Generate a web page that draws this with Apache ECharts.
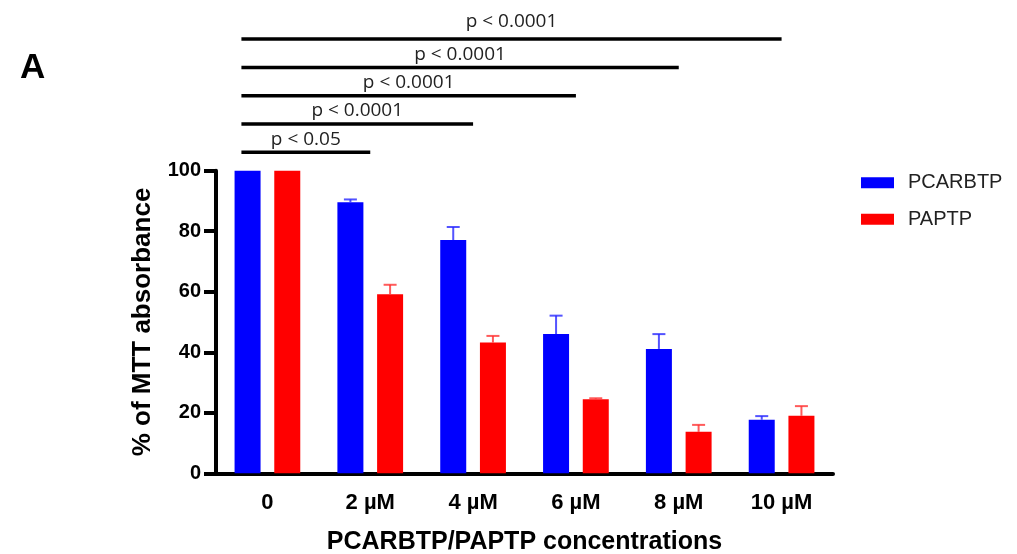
<!DOCTYPE html>
<html>
<head>
<meta charset="utf-8">
<script src="https://cdn.jsdelivr.net/npm/echarts@6/dist/echarts.min.js"></script>
<style>
  html, body { margin: 0; padding: 0; background: #fff; }
  #main { width: 1017px; height: 554px; }
</style>
</head>
<body>
<div id="main"></div>
<script>
// data
var categories = ['0', '2 µM', '4 µM', '6 µM', '8 µM', '10 µM'];
var pcarbtpMean = [100, 89.6, 77.1, 46.0, 41.1, 17.7];
var pcarbtpErr = [0, 0.9, 4.3, 6.1, 4.9, 1.2];
var paptpMean = [100, 59.2, 43.2, 24.5, 13.7, 19.0];
var paptpErr = [0, 3.1, 2.2, 0.3, 2.3, 3.2];
// significance brackets: all start at "0", end at these categories
var bracketEnds = [1, 2, 3, 4, 5];
var bracketLabels = ['p < 0.05', 'p < 0.0001', 'p < 0.0001', 'p < 0.0001', 'p < 0.0001'];

var FONT = 'Liberation Sans, Arial, sans-serif';
var BAR_W = 26;
var BAR_GAP = 13.7;
var HALF = (BAR_W + BAR_GAP) / 2;

function makeErrData(means, errs) {
  var out = [];
  for (var i = 0; i < means.length; i++) {
    out.push([i, means[i], errs[i]]);
  }
  return out;
}

function errorBarItem(offset, color) {
  return function (params, api) {
    var idx = api.value(0);
    var err = api.value(2);
    if (!err) {
      return { type: 'group', children: [] };
    }
    var base = api.coord([idx, api.value(1)]);
    var top = api.coord([idx, api.value(1) + err]);
    var x = base[0] + offset;
    return {
      type: 'group',
      children: [
        { type: 'line', shape: { x1: x, y1: base[1], x2: x, y2: top[1] }, style: { stroke: color, lineWidth: 2 } },
        { type: 'line', shape: { x1: x - 6.5, y1: top[1], x2: x + 6.5, y2: top[1] }, style: { stroke: color, lineWidth: 2 } }
      ]
    };
  };
}

var bracketData = [];
for (var b = 0; b < bracketEnds.length; b++) {
  bracketData.push([bracketEnds[b], 100]);
}

function bracketItem(params, api) {
  var i = params.dataIndex;
  var start = api.coord([0, 100]);
  var end = api.coord([api.value(0), 100]);
  var y = start[1] - 18.4 - i * 28.3;
  var x0 = start[0] - 26;
  var x1 = end[0];
  var textGap = i === bracketEnds.length - 1 ? 18 : 13;
  return {
    type: 'group',
    children: [
      { type: 'line', shape: { x1: x0, y1: y, x2: x1, y2: y }, style: { stroke: '#000', lineWidth: 3.5 } },
      {
        type: 'text',
        style: {
          text: bracketLabels[i],
          x: (x0 + x1) / 2,
          y: y - textGap,
          align: 'center',
          verticalAlign: 'middle',
          fontFamily: 'Open Sans, sans-serif',
          fontSize: 19,
          fill: '#222'
        }
      }
    ]
  };
}

var chart = echarts.init(document.getElementById('main'));
var option = {
  animation: false,
  title: {
    text: 'A',
    left: 15,
    top: 46,
    textStyle: { fontFamily: FONT, fontSize: 35, fontWeight: 'bold', color: '#000' }
  },
  legend: {
    data: ['PCARBTP', 'PAPTP'],
    orient: 'vertical',
    left: 856,
    top: 167.7,
    itemWidth: 33,
    itemHeight: 11,
    itemGap: 16.5,
    icon: 'rect',
    textStyle: { fontFamily: FONT, fontSize: 20, color: '#222', lineHeight: 20, padding: [0, 0, 0, 9] }
  },
  grid: {
    left: 216,
    right: 184,
    top: 170.7,
    bottom: 80.7,
    containLabel: false,
    outerBoundsMode: 'none'
  },
  xAxis: {
    type: 'category',
    data: categories,
    name: 'PCARBTP/PAPTP concentrations',
    nameLocation: 'middle',
    nameGap: 56,
    nameTextStyle: { fontFamily: FONT, fontSize: 25, fontWeight: 'bold', color: '#000' },
    axisLine: { lineStyle: { color: '#000', width: 4 } },
    axisTick: { alignWithLabel: true, length: 12, lineStyle: { color: '#000', width: 4 } },
    axisLabel: { fontFamily: FONT, fontSize: 22, fontWeight: 'bold', color: '#000', margin: 19 }
  },
  yAxis: {
    type: 'value',
    min: 0,
    max: 100,
    interval: 20,
    name: '% of MTT absorbance',
    nameLocation: 'middle',
    nameGap: 60,
    nameTextStyle: { fontFamily: FONT, fontSize: 26, fontWeight: 'bold', color: '#000' },
    axisLine: { show: true, lineStyle: { color: '#000', width: 4 } },
    axisTick: { show: true, length: 12, lineStyle: { color: '#000', width: 4 } },
    axisLabel: { fontFamily: FONT, fontSize: 20, fontWeight: 'bold', color: '#000', margin: 15 },
    splitLine: { show: false }
  },
  series: [
    {
      name: 'PCARBTP',
      type: 'bar',
      data: pcarbtpMean,
      barWidth: BAR_W,
      barGap: (BAR_GAP / BAR_W * 100) + '%',
      itemStyle: { color: '#0000ff' }
    },
    {
      name: 'PAPTP',
      type: 'bar',
      data: paptpMean,
      barWidth: BAR_W,
      itemStyle: { color: '#ff0000' }
    },
    {
      type: 'custom',
      name: 'PCARBTP err',
      data: makeErrData(pcarbtpMean, pcarbtpErr),
      encode: { x: 0, y: 1 },
      renderItem: errorBarItem(-HALF, 'rgba(40,40,255,0.8)'),
      z: 5,
      silent: true
    },
    {
      type: 'custom',
      name: 'PAPTP err',
      data: makeErrData(paptpMean, paptpErr),
      encode: { x: 0, y: 1 },
      renderItem: errorBarItem(HALF, 'rgba(255,50,50,0.8)'),
      z: 5,
      silent: true
    },
    {
      type: 'custom',
      name: 'brackets',
      data: bracketData,
      encode: { x: 0, y: 1 },
      renderItem: bracketItem,
      clip: false,
      z: 6,
      silent: true
    }
  ]
};
chart.setOption(option);
</script>
</body>
</html>
